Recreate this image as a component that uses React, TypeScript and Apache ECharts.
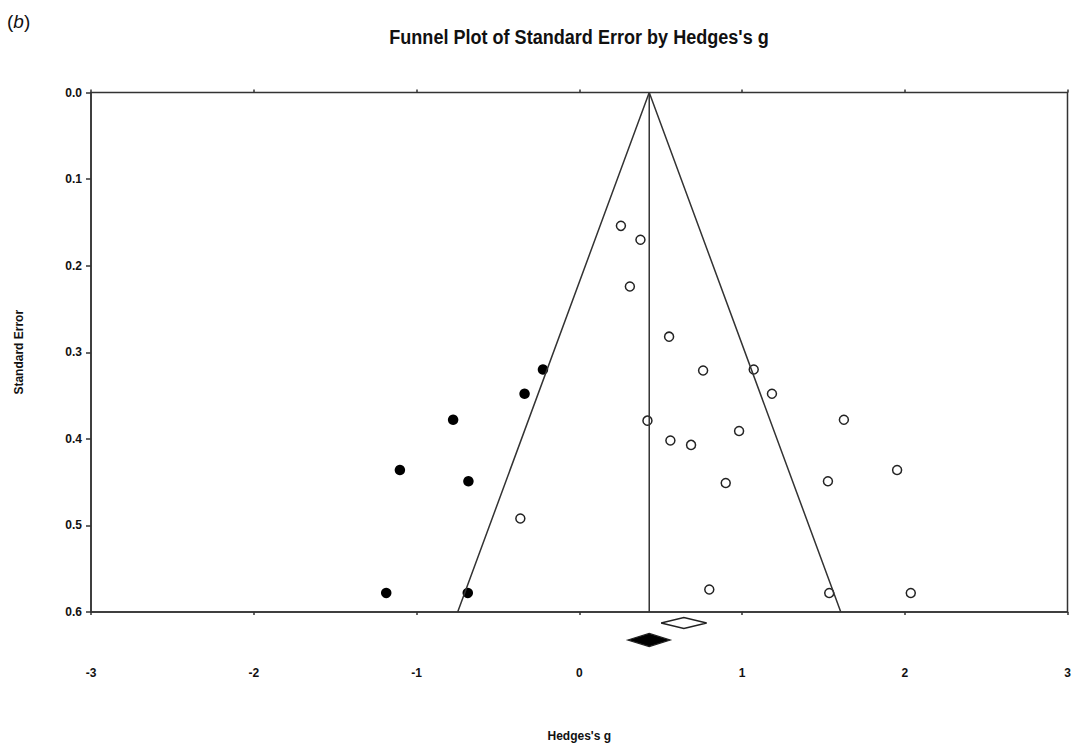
import React, { useEffect, useRef } from "react";
import * as echarts from "echarts";

// Observed studies: [Hedges's g, standard error]
const observedStudies: [number, number][] = [
  [0.256, 0.154],
  [0.376, 0.17],
  [0.311, 0.224],
  [0.552, 0.282],
  [0.761, 0.321],
  [1.072, 0.32],
  [1.184, 0.348],
  [0.419, 0.379],
  [0.56, 0.402],
  [0.687, 0.407],
  [0.982, 0.391],
  [1.626, 0.378],
  [0.9, 0.451],
  [1.528, 0.449],
  [1.953, 0.436],
  [-0.362, 0.492],
  [0.799, 0.574],
  [1.536, 0.578],
  [2.037, 0.578],
];

// Imputed studies (trim and fill)
const imputedStudies: [number, number][] = [
  [-0.223, 0.32],
  [-0.336, 0.348],
  [-0.775, 0.378],
  [-1.102, 0.436],
  [-0.681, 0.449],
  [-1.186, 0.578],
  [-0.685, 0.578],
];

// Pooled estimate and its 95% funnel limits
const pooledLine: [number, number][] = [
  [0.43, 0],
  [0.43, 0.6],
];
const funnelLimits: [number, number][] = [
  [-0.747, 0.6],
  [0.43, 0],
  [1.607, 0.6],
];

// Summary diamonds: [lower, estimate, upper]
const observedSummary = [0.503, 0.643, 0.783];
const adjustedSummary = [0.299, 0.43, 0.558];

const xTicks = [-3, -2, -1, 0, 1, 2, 3];
const yTicks = [0, 0.1, 0.2, 0.3, 0.4, 0.5, 0.6];

const FONT = "'Liberation Sans', Arial, Helvetica, sans-serif";
const INK = "#333";

export default function App() {
  const ref = useRef<HTMLDivElement>(null);

  useEffect(() => {
    if (!ref.current) return;
    const chart = echarts.init(ref.current, undefined, { renderer: "svg" });

    const diamondStyles = [
      { offset: 11, half: 5.5, fill: "#fff" },
      { offset: 28, half: 6.5, fill: "#000" },
    ];

    chart.setOption({
      animation: false,
      backgroundColor: "#fff",
      grid: {
        left: 91,
        top: 92.5,
        right: 7.5,
        bottom: 136,
        outerBoundsMode: "none",
        containLabel: false,
        show: true,
        borderColor: INK,
        borderWidth: 1.5,
        backgroundColor: "transparent",
      },
      graphic: [
        {
          type: "text",
          x: 579,
          y: 36,
          scaleX: 0.86,
          style: {
            text: "Funnel Plot of Standard Error by Hedges's g",
            font: `bold 21px ${FONT}`,
            fill: "#111",
            textAlign: "center",
            textVerticalAlign: "middle",
          },
        },
        {
          type: "text",
          x: 7,
          y: 21,
          style: {
            text: "({i|b})",
            font: `19px ${FONT}`,
            fill: "#111",
            textAlign: "left",
            textVerticalAlign: "middle",
            rich: {
              i: { fontStyle: "italic", fontSize: 19, fontFamily: FONT, fill: "#111" },
            },
          },
        },
      ],
      xAxis: [
        {
          type: "value",
          min: xTicks[0],
          max: xTicks[xTicks.length - 1],
          interval: 1,
          splitLine: { show: false },
          axisLine: { show: true, onZero: false, lineStyle: { color: INK, width: 1.5 } },
          axisTick: { show: true, length: 3, lineStyle: { color: INK, width: 1.5 } },
          axisLabel: {
            margin: 55,
            color: "#111",
            fontWeight: "bold",
            fontSize: 12,
            fontFamily: FONT,
          },
          name: "Hedges's g",
          nameLocation: "middle",
          nameGap: 118,
          nameTextStyle: { color: "#111", fontWeight: "bold", fontSize: 12, fontFamily: FONT },
        },
        {
          type: "value",
          position: "bottom",
          min: xTicks[0],
          max: xTicks[xTicks.length - 1],
          interval: 1,
          splitLine: { show: false },
          axisLine: { show: false },
          axisTick: { show: true, inside: true, length: 3, lineStyle: { color: INK, width: 1.5 } },
          axisLabel: { show: false },
        },
      ],
      yAxis: {
        type: "value",
        inverse: true,
        min: yTicks[0],
        max: yTicks[yTicks.length - 1],
        interval: 0.1,
        splitLine: { show: false },
        axisLine: { show: true, onZero: false, lineStyle: { color: INK, width: 1.5 } },
        axisTick: { show: true, length: 5, lineStyle: { color: INK, width: 1.5 } },
        axisLabel: {
          margin: 9,
          color: "#111",
          fontWeight: "bold",
          fontSize: 12,
          fontFamily: FONT,
          formatter: (v: number) => v.toFixed(1),
        },
        name: "Standard Error",
        nameLocation: "middle",
        nameGap: 66,
        nameRotate: 90,
        nameTextStyle: { color: "#111", fontWeight: "bold", fontSize: 12, fontFamily: FONT },
      },
      series: [
        {
          type: "line",
          data: funnelLimits,
          symbol: "none",
          lineStyle: { color: INK, width: 1.5 },
          silent: true,
        },
        {
          type: "line",
          data: pooledLine,
          symbol: "none",
          lineStyle: { color: INK, width: 1.5 },
          silent: true,
        },
        {
          type: "scatter",
          data: observedStudies,
          symbol: "circle",
          symbolSize: 9,
          itemStyle: { color: "#fff", borderColor: "#222", borderWidth: 1.5, opacity: 1 },
        },
        {
          type: "scatter",
          data: imputedStudies,
          symbol: "circle",
          symbolSize: 10.5,
          itemStyle: { color: "#000", opacity: 1 },
        },
        {
          type: "custom",
          clip: false,
          data: [
            [...observedSummary, yTicks[yTicks.length - 1]],
            [...adjustedSummary, yTicks[yTicks.length - 1]],
          ],
          encode: { x: [0, 1, 2], y: 3 },
          renderItem: (params: any, api: any) => {
            const st = diamondStyles[params.dataIndex];
            const base = api.value(3);
            const lo = api.coord([api.value(0), base]);
            const mid = api.coord([api.value(1), base]);
            const hi = api.coord([api.value(2), base]);
            const cy = lo[1] + st.offset;
            return {
              type: "polygon",
              shape: {
                points: [
                  [lo[0], cy],
                  [mid[0], cy - st.half],
                  [hi[0], cy],
                  [mid[0], cy + st.half],
                ],
              },
              style: { fill: st.fill, stroke: "#222", lineWidth: 1.3 },
            };
          },
        },
      ],
    });

    return () => chart.dispose();
  }, []);

  return (
    <div
      ref={ref}
      style={{ position: "fixed", left: 0, top: 0, width: 1075, height: 748, background: "#fff" }}
    />
  );
}
